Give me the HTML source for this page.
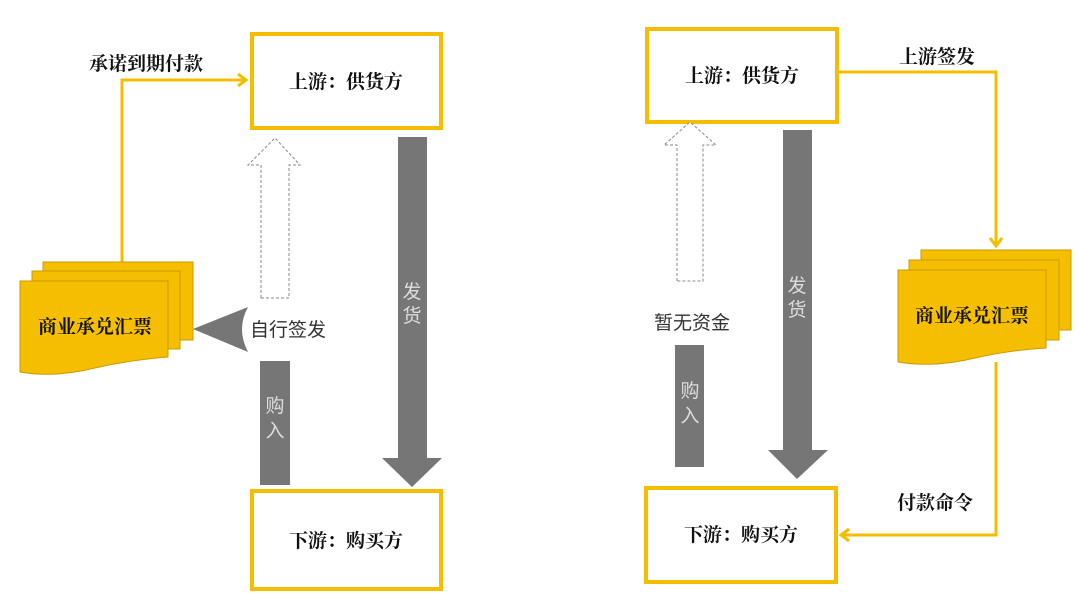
<!DOCTYPE html>
<html><head><meta charset="utf-8"><style>
html,body{margin:0;padding:0;background:#fff;}
svg{display:block}
text{font-family:"Liberation Serif","Noto Serif CJK SC","Noto Sans CJK SC",serif;}
.b{font-weight:bold;fill:#111;font-size:19px}
.r{font-family:"Liberation Sans","Noto Sans CJK SC",sans-serif;fill:#333;font-size:19px}
.w{font-family:"Liberation Sans","Noto Sans CJK SC",sans-serif;fill:#ddd;font-size:19px}
</style></head><body>
<svg width="1080" height="608" viewBox="0 0 1080 608" xmlns="http://www.w3.org/2000/svg">
<defs>
<marker id="ah" markerWidth="14" markerHeight="14" refX="10" refY="7" orient="auto" markerUnits="userSpaceOnUse">
<path d="M2,1 L10,7 L2,13" fill="none" stroke="#F5BD00" stroke-width="3"/>
</marker>
</defs>
<!-- LEFT -->
<rect x="252" y="34" width="189" height="94" fill="#fff" stroke="#F5BD00" stroke-width="4"/>
<text class="b" x="346" y="88" text-anchor="middle">上游：供货方</text>
<rect x="252" y="491" width="189" height="98" fill="#fff" stroke="#F5BD00" stroke-width="4"/>
<text class="b" x="346" y="547" text-anchor="middle">下游：购买方</text>
<polyline points="122,262 122,80 246,80" fill="none" stroke="#F5BD00" stroke-width="3" marker-end="url(#ah)"/>
<text class="b" x="146" y="70" text-anchor="middle">承诺到期付款</text>
<path d="M261,298 L261,165 L248,165 L275,138 L300,165 L289,165 L289,298 Z" fill="#fff" stroke="#888" stroke-width="1" stroke-dasharray="3,2"/>
<path d="M398,137 L427,137 L427,458 L442,458 L412,487 L382,458 L398,458 Z" fill="#767676"/>
<text class="w" x="412" y="298" text-anchor="middle">发</text>
<text class="w" x="412" y="322" text-anchor="middle">货</text>
<rect x="260" y="361" width="30" height="124" fill="#767676"/>
<text class="w" x="275" y="412" text-anchor="middle">购</text>
<text class="w" x="275" y="437" text-anchor="middle">入</text>
<path d="M193,329 L248,307 Q236,329 248,352 Z" fill="#767676"/>
<text class="r" x="250" y="336">自行签发</text>
<!-- left docs -->
<rect x="43" y="262" width="150" height="78" fill="#F5BF00" stroke="#C89B00" stroke-width="1"/>
<rect x="32" y="271" width="148" height="78" fill="#F5BF00" stroke="#C89B00" stroke-width="1"/>
<path d="M20,281 L168,281 L168,357 Q130,360 95,368 Q55,378 20,372 Z" fill="#F5BF00" stroke="#C89B00" stroke-width="1"/>
<text class="b" x="95" y="333" text-anchor="middle">商业承兑汇票</text>
<!-- RIGHT -->
<rect x="647" y="29" width="190" height="93" fill="#fff" stroke="#F5BD00" stroke-width="4"/>
<text class="b" x="742" y="82" text-anchor="middle">上游：供货方</text>
<rect x="646" y="488" width="190" height="94" fill="#fff" stroke="#F5BD00" stroke-width="4"/>
<text class="b" x="741" y="541" text-anchor="middle">下游：购买方</text>
<path d="M677,281 L677,145 L664,145 L690,122 L716,145 L703,145 L703,281 Z" fill="#fff" stroke="#888" stroke-width="1" stroke-dasharray="3,2"/>
<path d="M783,130 L812,130 L812,450 L828,450 L797,479 L768,450 L783,450 Z" fill="#767676"/>
<text class="w" x="797" y="292" text-anchor="middle">发</text>
<text class="w" x="797" y="316" text-anchor="middle">货</text>
<rect x="675" y="345" width="29" height="122" fill="#767676"/>
<text class="w" x="690" y="397" text-anchor="middle">购</text>
<text class="w" x="690" y="422" text-anchor="middle">入</text>
<text class="r" x="692" y="329" text-anchor="middle">暂无资金</text>
<polyline points="839,72 996,72 996,246" fill="none" stroke="#F5BD00" stroke-width="3" marker-end="url(#ah)"/>
<text class="b" x="937" y="63" text-anchor="middle">上游签发</text>
<polyline points="996,362 996,535 841,535" fill="none" stroke="#F5BD00" stroke-width="3" marker-end="url(#ah)"/>
<text class="b" x="935" y="509" text-anchor="middle">付款命令</text>
<rect x="921" y="250" width="150" height="80" fill="#F5BF00" stroke="#C89B00" stroke-width="1"/>
<rect x="909" y="260" width="150" height="80" fill="#F5BF00" stroke="#C89B00" stroke-width="1"/>
<path d="M898,270 L1046,270 L1046,348 Q1010,350 975,358 Q935,368 898,362 Z" fill="#F5BF00" stroke="#C89B00" stroke-width="1"/>
<text class="b" x="972" y="322" text-anchor="middle">商业承兑汇票</text>
</svg>
</body></html>
